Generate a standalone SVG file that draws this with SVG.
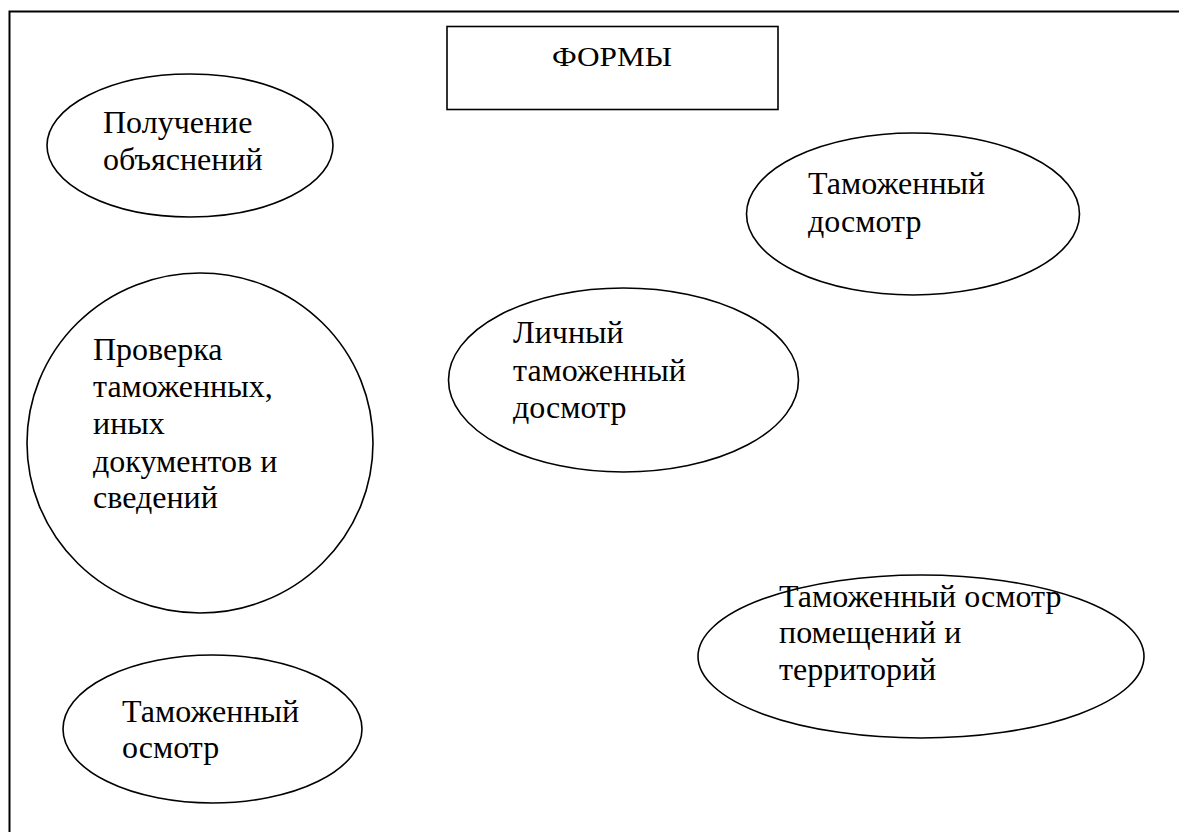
<svg xmlns="http://www.w3.org/2000/svg" width="1179" height="832" viewBox="0 0 1179 832">
<style>
.shape{fill:#fff;stroke:#000;stroke-width:1.6}
text{fill:#000;font-family:"Liberation Serif","Times New Roman",serif}
.t{font-size:32px}
.title{font-size:28px}
</style>
<rect x="0" y="0" width="1179" height="832" fill="#fff"/>
<rect id="frame" x="9.5" y="11.5" width="1200" height="900" fill="none" stroke="#000" stroke-width="2"/>
<g id="connectors"></g>
<g id="title">
<rect class="shape" x="447" y="26.5" width="331" height="83"/>
<text class="title" x="552" y="66" textLength="120" lengthAdjust="spacingAndGlyphs">ФОРМЫ</text>
</g>
<g id="poluchenie">
<ellipse class="shape" cx="190" cy="145.5" rx="143" ry="71.5"/>
<text class="t" x="103" y="133">Получение</text>
<text class="t" x="103" y="170">объяснений</text>
</g>
<g id="tam-dosmotr">
<ellipse class="shape" cx="913" cy="214" rx="166.5" ry="81"/>
<text class="t" x="808" y="194">Таможенный</text>
<text class="t" x="808" y="232">досмотр</text>
</g>
<g id="lichny">
<ellipse class="shape" cx="623.5" cy="380" rx="175" ry="92"/>
<text class="t" x="513" y="343">Личный</text>
<text class="t" x="513" y="381">таможенный</text>
<text class="t" x="513" y="418">досмотр</text>
</g>
<g id="proverka">
<ellipse class="shape" cx="200" cy="443" rx="173" ry="170"/>
<text class="t" x="93" y="360">Проверка</text>
<text class="t" x="93" y="397">таможенных,</text>
<text class="t" x="93" y="434">иных</text>
<text class="t" x="93" y="472">документов и</text>
<text class="t" x="93" y="508">сведений</text>
</g>
<g id="osmotr-pomesh">
<ellipse class="shape" cx="921" cy="656.5" rx="223" ry="81.5"/>
<text class="t" x="779" y="607">Таможенный осмотр</text>
<text class="t" x="779" y="643">помещений и</text>
<text class="t" x="779" y="680">территорий</text>
</g>
<g id="osmotr">
<ellipse class="shape" cx="212.5" cy="729" rx="149.5" ry="74"/>
<text class="t" x="122" y="722">Таможенный</text>
<text class="t" x="122" y="758">осмотр</text>
</g>
</svg>
